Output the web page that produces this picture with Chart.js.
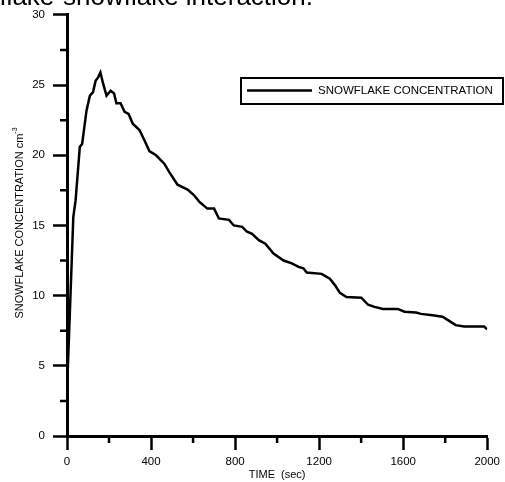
<!DOCTYPE html>
<html>
<head>
<meta charset="utf-8">
<script src="https://cdn.jsdelivr.net/npm/chart.js@4.4.1/dist/chart.umd.min.js"></script>
<style>
  html, body { margin: 0; padding: 0; background: #fff; }
  #wrap { width: 505px; height: 482px; }
</style>
</head>
<body>
<div id="wrap"><canvas id="chart"></canvas></div>
<script>
const TIME_SEC = [0, 17, 30, 41, 61, 72, 93, 109, 124, 136, 148, 159, 172, 188, 208, 224, 235, 255, 274, 293,
    313, 345, 369, 392, 424, 463, 487, 526, 574, 605, 629, 668, 700, 723, 771, 794, 834, 857, 881, 913,
    944, 983, 1031, 1070, 1102, 1125, 1141, 1212, 1251, 1275, 1299, 1330, 1401, 1433, 1464, 1504, 1574, 1606, 1661, 1685,
    1740, 1787, 1819, 1850, 1890, 1985, 2000]
const SNOWFLAKE_CONC = [3.2, 10.2, 15.6, 16.8, 20.6, 20.8, 23.2, 24.25, 24.5, 25.3, 25.55, 25.9, 25.1, 24.25, 24.6, 24.4, 23.7, 23.7, 23.1, 22.95,
    22.25, 21.8, 21.05, 20.3, 20.0, 19.4, 18.8, 17.9, 17.55, 17.15, 16.7, 16.2, 16.2, 15.5, 15.4, 15.0, 14.9, 14.55, 14.4, 13.95,
    13.7, 13.0, 12.5, 12.3, 12.05, 11.95, 11.65, 11.55, 11.2, 10.75, 10.2, 9.9, 9.85, 9.35, 9.2, 9.05, 9.05, 8.85, 8.8, 8.7,
    8.6, 8.5, 8.2, 7.9, 7.8, 7.8, 7.6]
const X_MINOR = [200, 600, 1000, 1400, 1800]
const Y_MINOR = [2.5, 7.5, 12.5, 17.5, 22.5, 27.5]

const SERIES_LABEL = 'SNOWFLAKE CONCENTRATION'
const FONT = 'Arial, "Liberation Sans", sans-serif'

const points = TIME_SEC.map((t, i) => ({ x: t, y: SNOWFLAKE_CONC[i] }))

// minor ticks, legend box and the loose texts
const extras = {
    id: 'extras',
    afterDraw(chart) {
        const ctx = chart.ctx
        const xs = chart.scales.x
        const ys = chart.scales.y
        const area = chart.chartArea

        ctx.save()
        ctx.strokeStyle = '#000'
        ctx.lineWidth = 2.5
        ctx.beginPath()
        X_MINOR.forEach(v => {
            const px = xs.getPixelForValue(v)
            ctx.moveTo(px, area.bottom)
            ctx.lineTo(px, area.bottom + 7)
        })
        Y_MINOR.forEach(v => {
            const py = ys.getPixelForValue(v)
            ctx.moveTo(area.left, py)
            ctx.lineTo(area.left - 7, py)
        })
        ctx.stroke()

        // legend
        ctx.lineWidth = 2
        ctx.strokeRect(241, 78, 262, 26)
        ctx.lineWidth = 2.5
        ctx.beginPath()
        ctx.moveTo(247, 90.5)
        ctx.lineTo(312, 90.5)
        ctx.stroke()
        ctx.fillStyle = '#000'
        ctx.font = '11.5px ' + FONT
        ctx.textBaseline = 'middle'
        ctx.textAlign = 'left'
        ctx.fillText(SERIES_LABEL, 318, 91)

        // y title with superscript
        ctx.translate(16, 223)
        ctx.rotate(-Math.PI / 2)
        ctx.font = '11px ' + FONT
        const main = 'SNOWFLAKE CONCENTRATION cm'
        const sup = '-3'
        const w1 = ctx.measureText(main).width
        ctx.font = '7px ' + FONT
        const w2 = ctx.measureText(sup).width
        const start = -(w1 + w2) / 2
        ctx.font = '11px ' + FONT
        ctx.fillText(main, start, 4)
        ctx.font = '7px ' + FONT
        ctx.fillText(sup, start + w1, -1)
        ctx.restore()

        // clipped heading at the top
        ctx.save()
        ctx.fillStyle = '#000'
        ctx.font = '26px ' + FONT
        ctx.textAlign = 'right'
        ctx.textBaseline = 'alphabetic'
        ctx.fillText('Snowflake-snowflake interaction.', 313, 5)
        ctx.restore()
    }
}

new Chart(document.getElementById('chart'), {
    type: 'line',
    data: {
        datasets: [{
            label: SERIES_LABEL,
            data: points,
            borderColor: '#000',
            borderWidth: 2.5,
            pointRadius: 0,
            tension: 0,
            fill: false
        }]
    },
    options: {
        responsive: true,
        maintainAspectRatio: false,
        animation: false,
        layout: { padding: { top: 14, right: 15, left: 0, bottom: 0 } },
        plugins: {
            legend: { display: false },
            tooltip: { enabled: false }
        },
        scales: {
            x: {
                type: 'linear',
                min: 0,
                max: 2000,
                ticks: { stepSize: 400, color: '#000', font: { size: 11.5, family: FONT }, padding: 5, maxRotation: 0,
                    callback: v => String(v) },
                grid: { drawOnChartArea: false, drawTicks: true, tickLength: 14, tickWidth: 2.5, tickColor: '#000' },
                border: { color: '#000', width: 3 },
                title: { display: true, text: 'TIME  (sec)', color: '#000', font: { size: 11, family: FONT }, padding: { top: 0, bottom: 0 } },
                afterFit(scale) { scale.height = 46 }
            },
            y: {
                min: 0,
                max: 30,
                ticks: { stepSize: 5, color: '#000', font: { size: 11.5, family: FONT }, padding: 8,
                    callback: v => String(v) },
                grid: { drawOnChartArea: false, drawTicks: true, tickLength: 14, tickWidth: 2.5, tickColor: '#000' },
                border: { color: '#000', width: 3 },
                afterFit(scale) { scale.width = 67 }
            }
        }
    },
    plugins: [extras]
})
</script>
</body>
</html>
